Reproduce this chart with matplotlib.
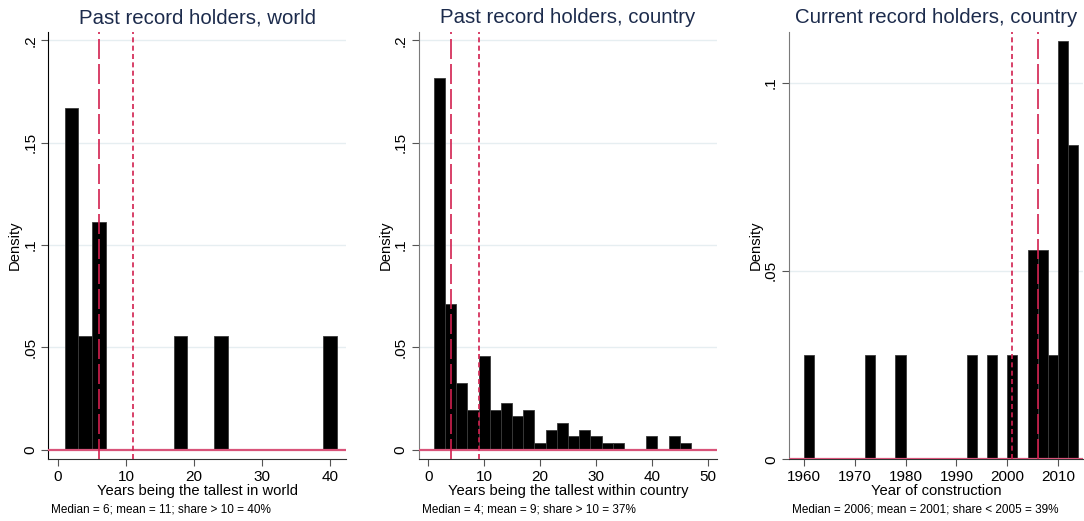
import matplotlib.pyplot as plt

plt.rcParams["font.family"] = ["Liberation Sans", "DejaVu Sans"]

# histogram bins (left edge, width 2) and densities
world_left = [1, 3, 5, 17, 23, 39]
world_density = [0.1667, 0.0556, 0.1111, 0.0556, 0.0556, 0.0556]

country_left = [1, 3, 5, 7, 9, 11, 13, 15, 17, 19, 21, 23,
                25, 27, 29, 31, 33, 35, 37, 39, 41, 43, 45]
country_density = [0.1816, 0.0713, 0.0326, 0.0195, 0.0456, 0.0195, 0.0228,
                   0.0163, 0.0195, 0.0033, 0.0098, 0.0130, 0.0065, 0.0098,
                   0.0065, 0.0033, 0.0033, 0.0, 0.0, 0.0065, 0.0, 0.0065,
                   0.0033]

current_left = [1960, 1972, 1978, 1992, 1996, 2000, 2004, 2006, 2008, 2010, 2012]
current_density = [0.0278, 0.0278, 0.0278, 0.0278, 0.0278, 0.0278,
                   0.0556, 0.0556, 0.0278, 0.1111, 0.0833]

bin_width = 2

world_median, world_mean = 6, 11
country_median, country_mean = 4, 9
current_median, current_mean = 2006, 2001

world_xticks = [0, 10, 20, 30, 40]
country_xticks = [0, 10, 20, 30, 40, 50]
current_xticks = [1960, 1970, 1980, 1990, 2000, 2010]
past_yticks = [0, 0.05, 0.1, 0.15, 0.2]
past_ylabels = ["0", ".05", ".1", ".15", ".2"]
current_yticks = [0, 0.05, 0.1]
current_ylabels = ["0", ".05", ".1"]

titles = ["Past record holders, world",
          "Past record holders, country",
          "Current record holders, country"]
xlabels = ["Years being the tallest in world",
           "Years being the tallest within country",
           "Year of construction"]
notes = ["Median = 6; mean = 11; share > 10 = 40%",
         "Median = 4; mean = 9; share > 10 = 37%",
         "Median = 2006; mean = 2001; share < 2005 = 39%"]

RED = "#d2204f"
ZERO = "#d9547a"
NAVY = "#1c2b4c"
GRID = "#e6eef1"

fig = plt.figure(figsize=(10.84, 5.21), dpi=100)
bottom, height = 0.1184, 0.8208
axes = [fig.add_axes([0.0446, bottom, 0.2746, height]),
        fig.add_axes([0.3865, bottom, 0.2746, height]),
        fig.add_axes([0.7279, bottom, 0.2712, height])]

panels = [
    (world_left, world_density, world_median, world_mean, world_xticks,
     (-1.43, 42.35), past_yticks, past_ylabels, (-0.0047, 0.2042), "black"),
    (country_left, country_density, country_median, country_mean, country_xticks,
     (-1.66, 51.6), past_yticks, past_ylabels, (-0.0047, 0.2042), "#7a7a7a"),
    (current_left, current_density, current_median, current_mean, current_xticks,
     (1957.1, 2014.9), current_yticks, current_ylabels, (0, 0.1135), "#7a7a7a"),
]

for ax, (left, dens, med, mean, xt, xlim, yt, yl, ylim, spine), title, xl, note in zip(
        axes, panels, titles, xlabels, notes):
    for y in yt[1:]:
        ax.axhline(y, color=GRID, lw=1.0, zorder=0)
    ax.bar(left, dens, width=bin_width, align="edge", color="black",
           edgecolor="#3a3a3a", linewidth=0.6, zorder=2)
    ax.axhline(0, color=ZERO, lw=1.6, zorder=3)
    ax.axvline(med, color=RED, lw=1.2, dashes=(12, 3), zorder=4)
    ax.axvline(mean, color=RED, lw=1.2, dashes=(3, 2), zorder=4)

    ax.set_xlim(*xlim)
    ax.set_ylim(*ylim)
    ax.set_xticks(xt)
    ax.set_yticks(yt)
    ax.set_yticklabels(yl, rotation=90, va="center")
    ax.tick_params(axis="both", labelsize=11, length=5, color="#555555",
                   direction="out", pad=3)
    for s in ["top", "right"]:
        ax.spines[s].set_visible(False)
    ax.spines["left"].set_color(spine)
    ax.spines["bottom"].set_color("#333333")
    ax.set_title(title, fontsize=14.7, color=NAVY, pad=6)
    ax.set_xlabel(xl, fontsize=10.6, labelpad=0)
    ax.set_ylabel("Density", fontsize=10.6, labelpad=1)
    ax.text(0.01, -0.118, note, transform=ax.transAxes, fontsize=8.5,
            ha="left", va="center")

fig.savefig("out.png", dpi=100)
